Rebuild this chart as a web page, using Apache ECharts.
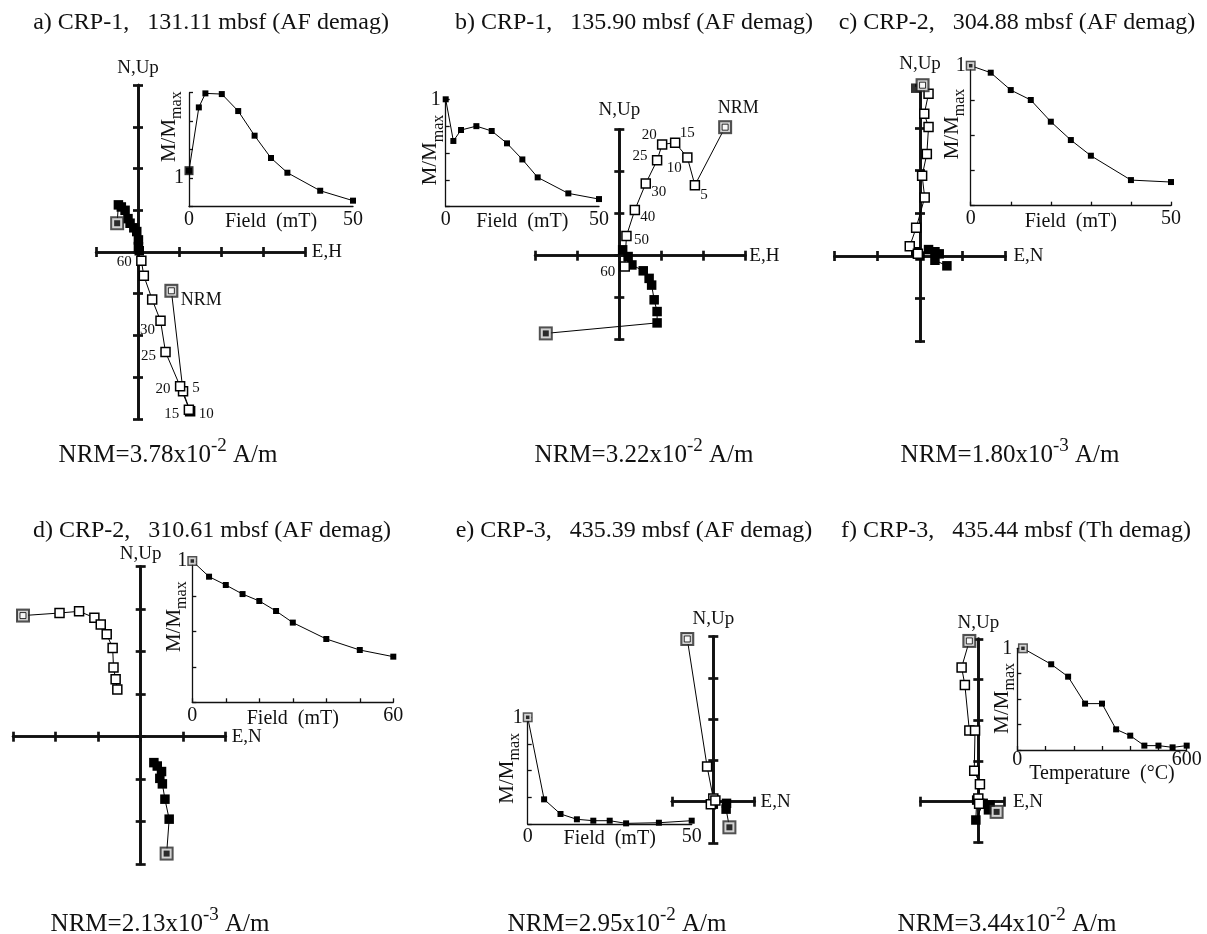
<!DOCTYPE html>
<html><head><meta charset="utf-8">
<script src="https://cdn.jsdelivr.net/npm/echarts/dist/echarts.min.js"></script>
<style>html,body{margin:0;padding:0;background:#fff}#c{width:1207px;height:934px}</style>
</head><body><div id="c"></div>
<script>
// ================= DATA =================
const titles = [
  'a) CRP-1,   131.11 mbsf (AF demag)',
  'b) CRP-1,   135.90 mbsf (AF demag)',
  'c) CRP-2,   304.88 mbsf (AF demag)',
  'd) CRP-2,   310.61 mbsf (AF demag)',
  'e) CRP-3,   435.39 mbsf (AF demag)',
  'f) CRP-3,   435.44 mbsf (Th demag)'
];
const nrmMantissa = ['3.78', '3.22', '1.80', '2.13', '2.95', '3.44'];
const nrmExponent = ['-2', '-2', '-3', '-3', '-2', '-2'];
const zijXNames = ['E,H', 'E,H', 'E,N', 'E,N', 'E,N', 'E,N'];
const zijYName = 'N,Up';
const insetXNames = ['Field  (mT)', 'Field  (mT)', 'Field  (mT)', 'Field  (mT)', 'Field  (mT)', 'Temperature  (°C)'];
const stepsAF = ['NRM', '5', '10', '15', '20', '25', '30', '40', '50', '60'];

// a) CRP-1 131.11
const aVertX = [0.80, 1.08, 1.25, 1.22, 1.01, 0.66, 0.54, 0.34, 0.14, 0.08];
const aVertY = [-0.93, -3.34, -3.82, -3.78, -3.22, -2.40, -1.65, -1.14, -0.57, -0.21];
const aHorX = [-0.50, -0.47, -0.40, -0.31, -0.24, -0.19, -0.10, -0.03, 0.01, 0.01, 0.03];
const aHorY = [0.69, 1.13, 1.08, 1.00, 0.80, 0.69, 0.58, 0.49, 0.29, 0.13, 0.03];
const aField = [0, 3, 5, 10, 15, 20, 25, 30, 40, 50];
const aMag = [0.316, 0.871, 0.994, 0.988, 0.839, 0.623, 0.427, 0.298, 0.140, 0.053];

// b) CRP-1 135.90
const bVertX = [2.52, 1.80, 1.62, 1.33, 1.02, 0.90, 0.63, 0.37, 0.17, 0.13];
const bVertY = [3.06, 1.68, 2.34, 2.69, 2.65, 2.27, 1.72, 1.09, 0.47, -0.26];
const bHorX = [-1.75, 0.90, 0.90, 0.83, 0.77, 0.71, 0.57, 0.30, 0.21, 0.08];
const bHorY = [-1.85, -1.60, -1.33, -1.05, -0.70, -0.54, -0.36, -0.22, -0.02, 0.14];
const bField = [0, 2.5, 5, 10, 15, 20, 25, 30, 40, 50];
const bMag = [1.000, 0.612, 0.714, 0.750, 0.705, 0.590, 0.440, 0.273, 0.124, 0.071];

// c) CRP-2 304.88
const cVertX = [0.06, 0.20, 0.10, 0.20, 0.16, 0.05, 0.11, -0.09, -0.24, -0.05];
const cVertY = [4.00, 3.80, 3.33, 3.02, 2.39, 1.88, 1.37, 0.66, 0.23, 0.05];
const cHorX = [-0.10, -0.10, 0.00, 0.20, 0.35, 0.45, 0.35, 0.63];
const cHorY = [3.93, 0.10, 0.00, 0.15, 0.10, 0.05, -0.10, -0.23];
const cField = [0, 5, 10, 15, 20, 25, 30, 40, 50];
const cMag = [1.000, 0.950, 0.826, 0.755, 0.600, 0.469, 0.357, 0.183, 0.169];

// d) CRP-2 310.61
const dVertX = [-2.77, -1.91, -1.45, -1.09, -0.94, -0.80, -0.66, -0.64, -0.59, -0.55];
const dVertY = [2.85, 2.91, 2.95, 2.80, 2.64, 2.41, 2.09, 1.63, 1.35, 1.11];
const dHorX = [0.61, 0.67, 0.57, 0.51, 0.45, 0.49, 0.39, 0.31];
const dHorY = [-2.75, -1.94, -1.47, -1.11, -0.98, -0.82, -0.69, -0.61];
const dField = [0, 5, 10, 15, 20, 25, 30, 40, 50, 60];
const dMag = [1.000, 0.889, 0.830, 0.766, 0.717, 0.646, 0.564, 0.448, 0.370, 0.323];

// e) CRP-3 435.39
const eVertX = [-0.63, -0.15, 0.00, -0.06, 0.05];
const eVertY = [3.94, 0.85, 0.08, -0.06, 0.03];
const eHorX = [0.39, 0.31, 0.32, 0.02, 0.00];
const eHorY = [-0.62, -0.18, -0.04, 0.04, -0.06];
const eField = [0, 5, 10, 15, 20, 25, 30, 40, 50];
const eMag = [1.000, 0.231, 0.094, 0.044, 0.031, 0.031, 0.006, 0.012, 0.031];

// f) CRP-3 435.44 (thermal)
const fVertX = [-0.22, -0.41, -0.33, -0.22, -0.08, -0.10, 0.04, 0.00, 0.02];
const fVertY = [3.95, 3.30, 2.87, 1.75, 1.75, 0.76, 0.43, 0.08, -0.05];
const fHorX = [0.45, 0.29, 0.25, 0.12, -0.06, -0.04];
const fHorY = [-0.25, -0.08, -0.20, -0.04, -0.45, 0.04];
const fTemp = [20, 120, 180, 240, 300, 350, 400, 450, 500, 550, 600];
const fMag = [1.000, 0.843, 0.721, 0.456, 0.456, 0.203, 0.141, 0.043, 0.043, 0.026, 0.043];

// ================= STYLE / LAYOUT =================
const FONT = "'Liberation Serif','Times New Roman',Times,serif";
const INK = '#111';
const titlePos = [[211, 23], [634, 23], [1017, 23], [212, 531], [634, 531], [1016, 531]];
const nrmPos = [[168, 452], [644, 452], [1010, 452], [160, 921], [617, 921], [1007, 921]];

const zijL = [
  {ox: 138, oy: 252, u: 41.7, x: [-1, 4], y: [-4, 4], xi: 1, xGap: 7, yGap: 8, horLinkFrom: 0, horNrm: true},
  {ox: 619.3, oy: 255.7, u: 42, x: [-2, 3], y: [-2, 3], xi: 1, xGap: 4, yGap: 10, horLinkFrom: 0, horNrm: true},
  {ox: 920, oy: 256, u: 42.7, x: [-2, 2], y: [-2, 4], xi: 1, xGap: 8, yGap: 12, horLinkFrom: 1, horNrm: false},
  {ox: 140.7, oy: 736.7, u: 42.5, x: [-3, 2], y: [-3, 4], xi: 1, xGap: 6, yGap: 3, horLinkFrom: 0, horNrm: true},
  {ox: 713.3, oy: 801.7, u: 41.3, x: [-1, 1], y: [-1, 4], xi: 1, xGap: 6, yGap: 8, horLinkFrom: 0, horNrm: true},
  {ox: 978.3, oy: 801.7, u: 40.7, x: [-1.42, 0.63], y: [-1, 4], xi: 2.05, xGap: 9, yGap: 6, horLinkFrom: 0, horNrm: true}
];
// label offsets [dx,dy] for step labels (null = no label)
const aLabOff = [[30, 9], [13, -3], [16, 3], [-17, 4], [-17, 3], [-17, 4], [-13, 9], null, null, [-17, 1]];
const bLabOff = [[13, -19], [9, 10], [-13, 11], [12, -10], [-13, -9], [-17, -4], [13, 9], [13, 7], [15, 4], [-17, 5]];

const insetL = [
  {left: 189, top: 92.7, w: 164, h: 114, xMax: 50, xi: 10, xTicks: false, yLabelAt: 0.25, gap: 5, lm: 3, mm: [171.7, 126.7], first: 'big'},
  {left: 445.7, top: 99.3, w: 153.3, h: 107.4, xMax: 50, xi: 10, xTicks: false, yLabelAt: 1, gap: 5, lm: 3, mm: [433.3, 150], first: 'none'},
  {left: 970.7, top: 65.7, w: 200.3, h: 140, xMax: 50, xi: 10, xTicks: true, yLabelAt: 1, gap: 6, lm: 3, mm: [955, 124], first: 'nrm'},
  {left: 192.3, top: 561, w: 201, h: 141.3, xMax: 60, xi: 10, xTicks: true, yLabelAt: 1, gap: 6, lm: 3, mm: [176.7, 616.7], first: 'nrm'},
  {left: 527.7, top: 717.3, w: 164, h: 106.7, xMax: 50, xi: 10, xTicks: false, yLabelAt: 1, gap: 5, lm: 3, mm: [510, 768.3], first: 'nrm'},
  {left: 1017.3, top: 648.3, w: 169.4, h: 101.7, xMax: 600, xi: 100, xTicks: true, yLabelAt: 1, gap: 14, lm: 0, mm: [1005, 698.3], first: 'nrm'}
];

// ================= BUILD =================
const grids = [], xAxes = [], yAxes = [], series = [], graphic = [];
const zip = (xs, ys) => xs.map((x, i) => [x, ys[i]]);
const baseSeries = {animation: false, silent: true, clip: false, emphasis: {disabled: true}};

function nrmMarks(xi, yi, pt, coreFilled, big) {
  const s = big ? [14, 10, 6] : [10, 7, 3.5];
  series.push(Object.assign({}, baseSeries, {type: 'scatter', xAxisIndex: xi, yAxisIndex: yi, data: [pt], symbol: 'rect', symbolSize: s[0], itemStyle: {color: '#262626'}, z: 5}));
  series.push(Object.assign({}, baseSeries, {type: 'scatter', xAxisIndex: xi, yAxisIndex: yi, data: [pt], symbol: 'rect', symbolSize: s[1], itemStyle: {color: '#fff'}, z: 6}));
  series.push(Object.assign({}, baseSeries, {type: 'scatter', xAxisIndex: xi, yAxisIndex: yi, data: [pt], symbol: 'rect', symbolSize: s[2],
    itemStyle: coreFilled ? {color: '#000'} : {color: '#fff', borderColor: '#000', borderWidth: 1}, z: 7}));
}

function addZij(p, vx, vy, hx, hy, steps, labOff) {
  const L = zijL[p];
  const gi = grids.length;
  grids.push({left: L.ox + L.x[0] * L.u, top: L.oy - L.y[1] * L.u, width: (L.x[1] - L.x[0]) * L.u, height: (L.y[1] - L.y[0]) * L.u, containLabel: false, outerBoundsMode: 'none'});
  const line = {show: true, onZero: true, lineStyle: {color: INK, width: 2.7}};
  const tick = {show: true, inside: false, length: 5, lineStyle: {color: INK, width: 2.7}};
  const base = {type: 'value', gridIndex: gi, axisLine: line, axisTick: tick, axisLabel: {show: false}, splitLine: {show: false}, nameMoveOverlap: false};
  const nts = {fontFamily: FONT, fontSize: 19, color: INK};
  const xi = xAxes.length;
  xAxes.push(Object.assign({}, base, {position: 'bottom', min: L.x[0], max: L.x[1], interval: L.xi, name: zijXNames[p], nameLocation: 'end', nameGap: L.xGap, nameTextStyle: nts}));
  xAxes.push(Object.assign({}, base, {position: 'top', min: L.x[0], max: L.x[1], interval: L.xi}));
  const yi = yAxes.length;
  yAxes.push(Object.assign({}, base, {position: 'left', min: L.y[0], max: L.y[1], interval: 1, name: zijYName, nameLocation: 'end', nameGap: L.yGap, nameTextStyle: nts}));
  yAxes.push(Object.assign({}, base, {position: 'right', min: L.y[0], max: L.y[1], interval: 1}));

  // horizontal projection (filled squares)
  const hpts = zip(hx, hy);
  if (L.horLinkFrom > 0) {
    series.push(Object.assign({}, baseSeries, {type: 'scatter', xAxisIndex: xi, yAxisIndex: yi, data: hpts.slice(0, L.horLinkFrom), symbol: 'rect', symbolSize: 9.5, itemStyle: {color: '#000'}, z: 3}));
  }
  series.push(Object.assign({}, baseSeries, {type: 'line', xAxisIndex: xi, yAxisIndex: yi, data: hpts.slice(L.horLinkFrom), symbol: 'rect', symbolSize: 9.5,
    itemStyle: {color: '#000'}, lineStyle: {color: '#000', width: 1}, z: 3}));
  // vertical projection (open squares)
  const vdata = zip(vx, vy).map((pt, i) => {
    const off = labOff ? labOff[i] : null;
    return off ? {value: pt, label: {show: true, position: 'inside', offset: off, formatter: steps[i], fontFamily: FONT, fontSize: i === 0 ? 18 : 15, color: INK}} : {value: pt};
  });
  series.push(Object.assign({}, baseSeries, {type: 'line', xAxisIndex: xi, yAxisIndex: yi, data: vdata, symbol: 'rect', symbolSize: 9,
    itemStyle: {color: '#fff', borderColor: '#000', borderWidth: 1.5}, lineStyle: {color: '#000', width: 1}, label: {show: false}, z: 4}));
  if (L.horNrm) nrmMarks(xi, yi, hpts[0], true, true);
  nrmMarks(xi, yi, [vx[0], vy[0]], false, true);
}

function addInset(p, fx, my) {
  const I = insetL[p];
  const gi = grids.length;
  grids.push({left: I.left, top: I.top, width: I.w, height: I.h, containLabel: false, outerBoundsMode: 'none'});
  const ls = {color: INK, width: 1.3};
  const lab = {fontFamily: FONT, fontSize: 20, color: INK};
  const xi = xAxes.length;
  xAxes.push({type: 'value', gridIndex: gi, min: 0, max: I.xMax, interval: I.xi,
    axisLine: {show: true, onZero: false, lineStyle: ls}, axisTick: {show: I.xTicks, inside: true, length: 4, lineStyle: ls},
    axisLabel: Object.assign({show: true, margin: I.lm, showMinLabel: true, showMaxLabel: true, hideOverlap: false, formatter: v => (v === 0 || v === I.xMax) ? String(v) : ''}, lab),
    splitLine: {show: false}, name: insetXNames[p], nameLocation: 'middle', nameGap: I.gap, nameTextStyle: lab, nameMoveOverlap: false});
  const yi = yAxes.length;
  yAxes.push({type: 'value', gridIndex: gi, min: 0, max: 1, interval: 0.25,
    axisLine: {show: true, onZero: false, lineStyle: ls}, axisTick: {show: true, inside: true, length: 4, lineStyle: ls},
    axisLabel: Object.assign({show: true, margin: 5, showMinLabel: true, showMaxLabel: true, hideOverlap: false, formatter: v => Math.abs(v - I.yLabelAt) < 1e-9 ? '1' : ''}, lab),
    splitLine: {show: false}});
  series.push(Object.assign({}, baseSeries, {type: 'line', xAxisIndex: xi, yAxisIndex: yi, data: zip(fx, my), symbol: 'rect', symbolSize: 6,
    itemStyle: {color: '#000'}, lineStyle: {color: '#000', width: 1}, z: 3}));
  if (I.first === 'big') {
    series.push(Object.assign({}, baseSeries, {type: 'scatter', xAxisIndex: xi, yAxisIndex: yi, data: [[fx[0], my[0]]], symbol: 'rect', symbolSize: 9, itemStyle: {color: '#000'}, z: 4}));
  } else if (I.first === 'nrm') {
    nrmMarks(xi, yi, [fx[0], my[0]], true, false);
  }
  graphic.push({type: 'text', x: I.mm[0], y: I.mm[1], rotation: Math.PI / 2, silent: true,
    style: {text: '{a|M/M}{b|max}', align: 'center', verticalAlign: 'middle', textAlign: 'center', textVerticalAlign: 'middle',
      rich: {a: {fontFamily: FONT, fontSize: 21, lineHeight: 26, verticalAlign: 'top', fill: INK, color: INK},
             b: {fontFamily: FONT, fontSize: 16, lineHeight: 26, verticalAlign: 'bottom', fill: INK, color: INK}}}});
}

const panels = [
  [aVertX, aVertY, aHorX, aHorY, aField, aMag, aLabOff],
  [bVertX, bVertY, bHorX, bHorY, bField, bMag, bLabOff],
  [cVertX, cVertY, cHorX, cHorY, cField, cMag, null],
  [dVertX, dVertY, dHorX, dHorY, dField, dMag, null],
  [eVertX, eVertY, eHorX, eHorY, eField, eMag, null],
  [fVertX, fVertY, fHorX, fHorY, fTemp, fMag, null]
];
panels.forEach((P, p) => {
  addInset(p, P[4], P[5]);
  addZij(p, P[0], P[1], P[2], P[3], stepsAF, P[6]);
  graphic.push({type: 'text', x: titlePos[p][0], y: titlePos[p][1], silent: true,
    style: {text: titles[p], font: '24px ' + FONT, fill: INK, align: 'center', verticalAlign: 'middle', textAlign: 'center', textVerticalAlign: 'middle'}});
  graphic.push({type: 'text', x: nrmPos[p][0], y: nrmPos[p][1], silent: true,
    style: {text: '{n|NRM=' + nrmMantissa[p] + 'x10}{s|' + nrmExponent[p] + '}{n| A/m}', align: 'center', verticalAlign: 'middle', textAlign: 'center', textVerticalAlign: 'middle',
      rich: {n: {fontFamily: FONT, fontSize: 25, lineHeight: 31, verticalAlign: 'bottom', fill: INK, color: INK},
             s: {fontFamily: FONT, fontSize: 19, lineHeight: 31, verticalAlign: 'top', fill: INK, color: INK}}}});
});

const chart = echarts.init(document.getElementById('c'), null, {renderer: 'canvas'});
chart.setOption({
  backgroundColor: '#fff',
  animation: false,
  grid: grids, xAxis: xAxes, yAxis: yAxes, series: series, graphic: {elements: graphic}
});
</script></body></html>
